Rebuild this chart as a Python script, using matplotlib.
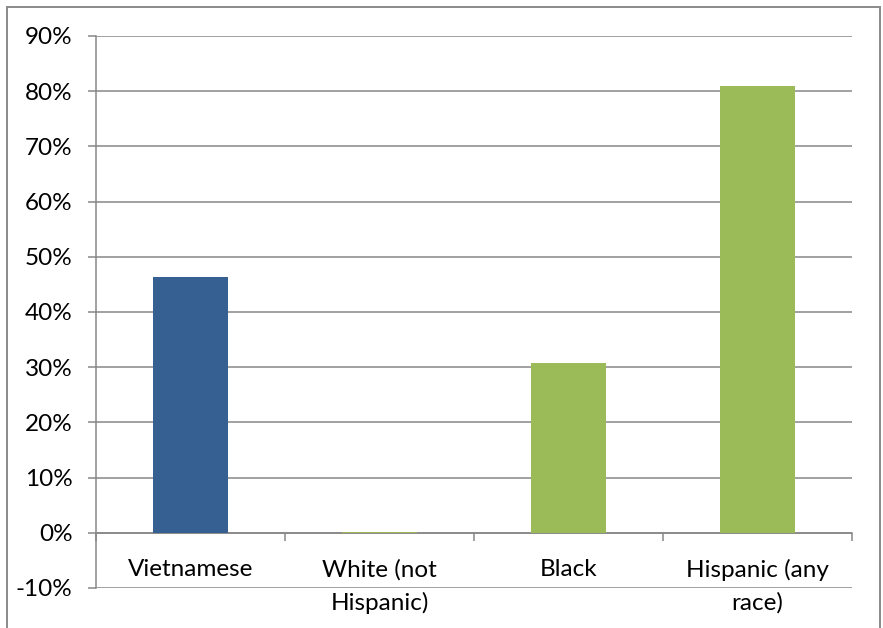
import matplotlib
matplotlib.use("Agg")
import matplotlib.pyplot as plt
from matplotlib.ticker import FixedLocator, PercentFormatter
from matplotlib.patches import Rectangle

categories = ["Vietnamese", "White (not\nHispanic)", "Black", "Hispanic (any\nrace)"]
values = [46.4, 0.1, 30.8, 81.0]
colors = ["#376092", "#9BBB59", "#9BBB59", "#9BBB59"]
y_ticks = [-10, 0, 10, 20, 30, 40, 50, 60, 70, 80, 90]

W, H = 883, 628
fig = plt.figure(figsize=(W / 100, H / 100), dpi=100)
plt.rcParams["font.family"] = ["Lato", "DejaVu Sans"]
plt.rcParams["axes.unicode_minus"] = False

grid_color = "#878787"
lw = 1.1
fs = 17.5

# outer chart frame
fig.patches.append(Rectangle((7 / W, -0.1), (880 - 7) / W, 1.1 - 7 / H,
                             transform=fig.transFigure, fill=False,
                             edgecolor="#8a8a8a", linewidth=1.4))

ax = fig.add_axes([96 / W, 1 - 588 / H, (852 - 96) / W, (588 - 36) / H])
ax.bar(range(len(categories)), values, width=0.4, color=colors, zorder=3)

ax.set_xlim(-0.5, len(categories) - 0.5)
ax.set_ylim(y_ticks[0], y_ticks[-1])

ax.yaxis.set_major_locator(FixedLocator(y_ticks))
ax.yaxis.set_major_formatter(PercentFormatter(decimals=0))
ax.grid(axis="y", color=grid_color, linewidth=lw, zorder=1)
ax.tick_params(axis="y", direction="out", length=8 * 0.72, width=lw,
               color=grid_color, pad=11, labelsize=fs, labelcolor="black")

ax.spines["bottom"].set_position(("data", 0))
for s in ("top", "right"):
    ax.spines[s].set_visible(False)
for s in ("bottom", "left"):
    ax.spines[s].set_color(grid_color)
    ax.spines[s].set_linewidth(lw)

ax.set_xticks(range(len(categories)))
ax.set_xticklabels(categories)
ax.set_xticks([i - 0.5 for i in range(len(categories) + 1)], minor=True)
ax.tick_params(axis="x", which="major", length=0, pad=19, labelsize=fs)
ax.tick_params(axis="x", which="minor", direction="out", length=8 * 0.72,
               width=lw, color=grid_color)
for t in ax.get_xticklabels():
    t.set_linespacing(1.6)
    t.set_verticalalignment("top")

fig.savefig("out.png", dpi=100)
